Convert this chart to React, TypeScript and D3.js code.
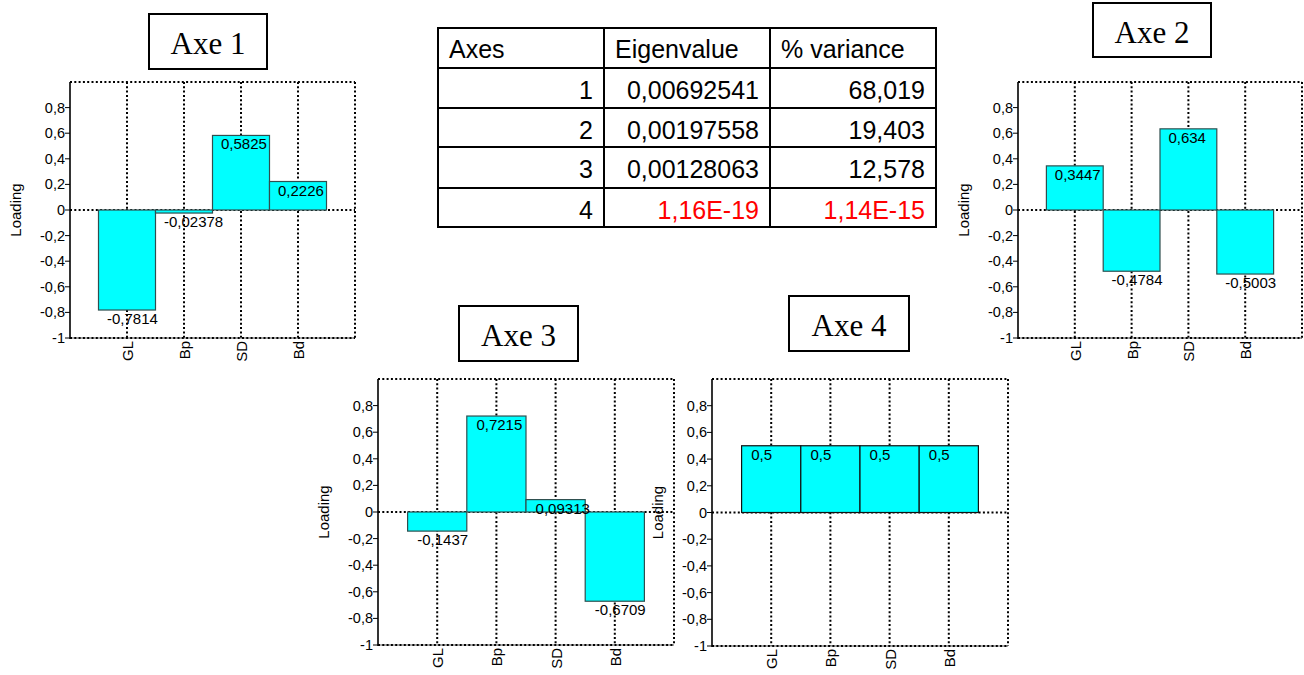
import React from "react";
import * as d3 from "d3";

const categories = ["GL", "Bp", "SD", "Bd"];
const axe1 = [-0.7814, -0.02378, 0.5825, 0.2226];
const axe2 = [0.3447, -0.4784, 0.634, -0.5003];
const axe3 = [-0.1437, 0.7215, 0.09313, -0.6709];
const axe4 = [0.5, 0.5, 0.5, 0.5];
const yTicks = [-1, -0.8, -0.6, -0.4, -0.2, 0, 0.2, 0.4, 0.6, 0.8];
const panelTitles = ["Axe 1", "Axe 2", "Axe 3", "Axe 4"];

const tableHeaders = ["Axes", "Eigenvalue", "% variance"];
const axesIds = ["1", "2", "3", "4"];
const eigenvalues = ["0,00692541", "0,00197558", "0,00128063", "1,16E-19"];
const variances = ["68,019", "19,403", "12,578", "1,14E-15"];
const highlightRow = [false, false, false, true];

const series = [axe1, axe2, axe3, axe4];

// layout (positions only)
const panels = [
  { left: 70, right: 355, top: 82, bottom: 338, box: [149, 14, 118, 55], stroke: "#2f4f4f" },
  { left: 1018, right: 1302, top: 82, bottom: 338, box: [1093, 3, 118, 54], stroke: "#2f4f4f" },
  { left: 378, right: 674, top: 379, bottom: 645, box: [459, 306, 119, 55], stroke: "#2f4f4f" },
  { left: 712, right: 1008, top: 379, bottom: 646, box: [789, 296, 120, 55], stroke: "#111" },
];

const comma = (v: number) => String(v).replace(".", ",");
const tickFmt = (v: number) => (v === 0 ? "0" : String(+v.toFixed(1)).replace(".", ","));

const SANS = "'Liberation Sans', Arial, sans-serif";
const DOT = "2 2.3";

function Panel({ idx }: { idx: number }) {
  const p = panels[idx];
  const values = series[idx];
  const y = d3.scaleLinear().domain([-1, 1]).range([p.bottom, p.top]);
  const x = d3.scaleLinear().domain([0, categories.length + 1]).range([p.left, p.right]);
  const bw = x(1) - x(0);
  const [bx, by, bwid, bh] = p.box;
  return (
    <g>
      {/* title box */}
      <rect x={bx} y={by} width={bwid} height={bh} fill="#fff" stroke="#000" strokeWidth={2} />
      <text x={bx + bwid / 2} y={by + 40} textAnchor="middle" fontFamily="'Liberation Serif', 'Times New Roman', serif" fontSize={31}>
        {panelTitles[idx]}
      </text>
      {/* dotted grid */}
      <line x1={p.left} x2={p.right} y1={p.top} y2={p.top} stroke="#000" strokeWidth={2} strokeDasharray={DOT} />
      <line x1={p.right} x2={p.right} y1={p.top} y2={p.bottom} stroke="#000" strokeWidth={2} strokeDasharray={DOT} />
      <line x1={p.left} x2={p.right} y1={y(0)} y2={y(0)} stroke="#000" strokeWidth={2} strokeDasharray={DOT} />
      {categories.map((c, i) => (
        <line key={"g" + i} x1={x(i + 1)} x2={x(i + 1)} y1={p.top} y2={p.bottom} stroke="#000" strokeWidth={2} strokeDasharray={DOT} />
      ))}
      {/* bars */}
      {values.map((v, i) => (
        <rect
          key={"b" + i}
          x={x(i + 1) - bw / 2}
          y={Math.min(y(v), y(0))}
          width={bw}
          height={Math.abs(y(v) - y(0))}
          fill="#00ffff"
          stroke={p.stroke}
          strokeWidth={1.2}
        />
      ))}
      {/* bottom axis */}
      <line x1={p.left} x2={p.right} y1={p.bottom} y2={p.bottom} stroke="#555" strokeWidth={1} />
      <line x1={p.left} x2={p.right} y1={p.bottom} y2={p.bottom} stroke="#000" strokeWidth={2} strokeDasharray={DOT} />
      {/* left axis */}
      <line x1={p.left} x2={p.left} y1={p.top} y2={p.bottom + 1} stroke="#000" strokeWidth={1.6} />
      {yTicks.map((t) => (
        <g key={"t" + t}>
          <line x1={p.left - 5} x2={p.left} y1={y(t)} y2={y(t)} stroke="#000" strokeWidth={1} />
          <text x={p.left - 5} y={y(t)} dy="0.35em" textAnchor="end" fontFamily={SANS} fontSize={14.5} fill="#000">
            {tickFmt(t)}
          </text>
        </g>
      ))}
      {/* value labels */}
      {values.map((v, i) => (
        <text key={"v" + i} x={x(i + 1) - 20} y={y(v) + 14} fontFamily={SANS} fontSize={15} fill="#000">
          {comma(v)}
        </text>
      ))}
      {/* category labels */}
      {categories.map((c, i) => (
        <text
          key={"c" + i}
          transform={`translate(${x(i + 1) + 6},${p.bottom + 3}) rotate(-90)`}
          textAnchor="end"
          fontFamily={SANS}
          fontSize={15}
          fill="#000"
        >
          {c}
        </text>
      ))}
      {/* y title */}
      <text
        transform={`translate(${p.left - 49},${(p.top + p.bottom) / 2}) rotate(-90)`}
        textAnchor="middle"
        fontFamily={SANS}
        fontSize={15}
        fill="#000"
      >
        Loading
      </text>
    </g>
  );
}

function Table() {
  const left = 438;
  const colX = [438, 604, 770, 936];
  const rowY = [28, 68, 108, 147, 188, 227];
  const cols = [axesIds, eigenvalues, variances];
  return (
    <g fontFamily={SANS} fontSize={25}>
      <rect x={left} y={rowY[0]} width={colX[3] - colX[0]} height={rowY[5] - rowY[0]} fill="#fff" stroke="#000" strokeWidth={2} />
      {colX.slice(1, 3).map((cx) => (
        <line key={"cx" + cx} x1={cx} x2={cx} y1={rowY[0]} y2={rowY[5]} stroke="#000" strokeWidth={2} />
      ))}
      {rowY.slice(1, 5).map((ry) => (
        <line key={"ry" + ry} x1={colX[0]} x2={colX[3]} y1={ry} y2={ry} stroke="#000" strokeWidth={2} />
      ))}
      {tableHeaders.map((h, j) => (
        <text key={"h" + j} x={colX[j] + 11} y={rowY[0] + 30} fill="#000">
          {h}
        </text>
      ))}
      {axesIds.map((_, r) =>
        cols.map((col, j) => (
          <text
            key={`c${r}-${j}`}
            x={colX[j + 1] - 11}
            y={rowY[r + 1] + 31}
            textAnchor="end"
            fill={j > 0 && highlightRow[r] ? "#ff0000" : "#000"}
          >
            {col[r]}
          </text>
        ))
      )}
    </g>
  );
}

export default function App() {
  return (
    <svg width={1304} height={675} style={{ position: "absolute", left: 0, top: 0, background: "#fff" }}>
      <rect x={0} y={0} width={1304} height={675} fill="#fff" />
      <Table />
      {panels.map((_, i) => (
        <Panel key={i} idx={i} />
      ))}
    </svg>
  );
}
